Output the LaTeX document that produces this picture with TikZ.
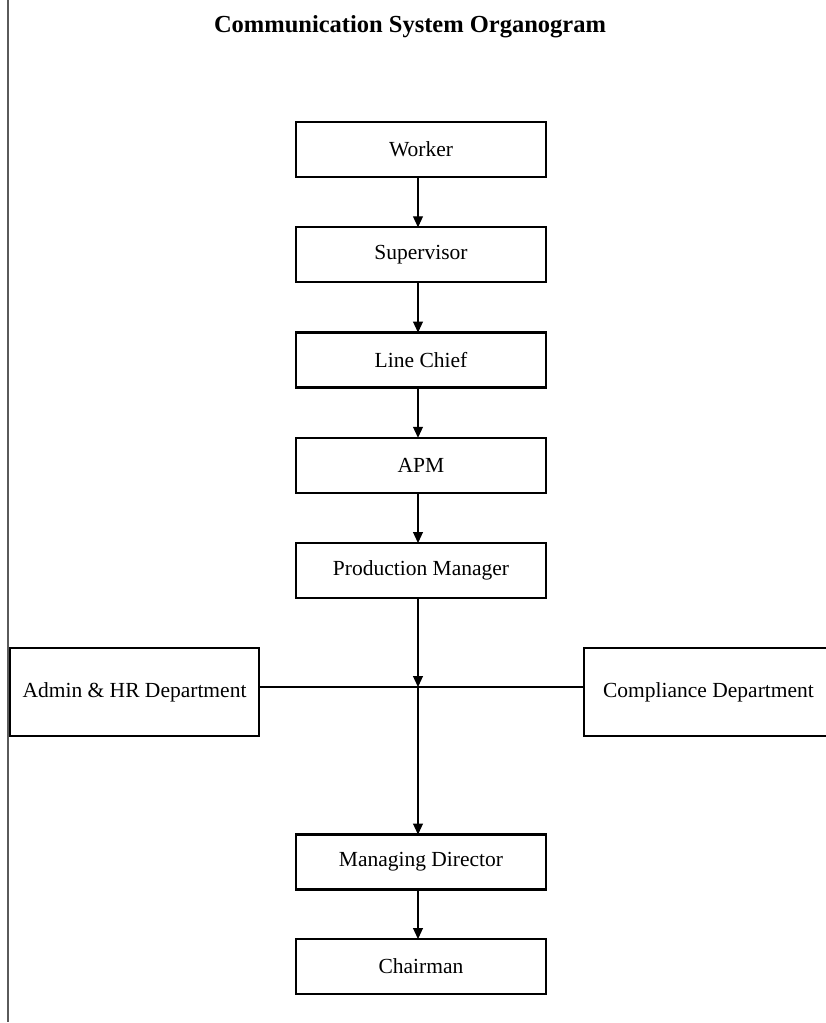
\documentclass[tikz,border=0pt]{standalone}
\usepackage{fontspec}
\setmainfont{Liberation Serif}
\usetikzlibrary{arrows.meta, positioning}
\definecolor{cframe}{HTML}{000000}
\definecolor{cedge}{HTML}{5A5A5A}
\tikzset{
  every picture/.style={line width=1.1pt},
  box/.style={draw=cframe, line width=2.3pt, fill=white, align=center, minimum width=250pt, minimum height=55pt, inner sep=0pt, outer sep=0pt, font=\fontsize{21.5}{25}\selectfont},
  sidebox/.style={box, minimum width=249pt, minimum height=88pt},
  arrow/.style={-{Triangle[length=11pt, width=10pt]}, line width=1.1pt},
  title/.style={font=\fontsize{24.5}{30}\selectfont\bfseries},
}

\begin{document}
\begin{tikzpicture}[x=1pt, y=-1pt, node distance=50.25pt]
  \useasboundingbox (0,0) rectangle (825,1023);
  \draw[cedge, line width=1.6pt] (8,0) -- (8,1022);
  \node[title] (head) at (410,27) {Communication System Organogram};
  % chain of command
  \node[box] (worker) at (421,149.5) {Worker};
  \node[box, below=of worker] (super) {Supervisor};
  \node[box, below=of super] (chief) {Line Chief};
  \node[box, below=of chief] (apm) {APM};
  \node[box, below=of apm] (pm) {Production Manager};
  \node[box] (md) at (421,862) {Managing Director};
  \node[box, below=49.5pt of md] (chair) {Chairman};
  % departments
  \node[sidebox] (admin) at (134.5,692) {Admin \& HR Department};
  \node[sidebox] (comp) at (708.5,692) {Compliance Department};
  \coordinate (hub) at (418,687);
  \draw (admin.east |- hub) -- (comp.west |- hub);
  \foreach \a/\b in {worker/super, super/chief, chief/apm, apm/pm, md/chair} {
    \draw[arrow] (\a.south -| hub) -- (\b.north -| hub);
  }
  \draw[arrow] (pm.south -| hub) -- (hub);
  \draw[arrow] (hub) -- (md.north -| hub);
\end{tikzpicture}
\end{document}
